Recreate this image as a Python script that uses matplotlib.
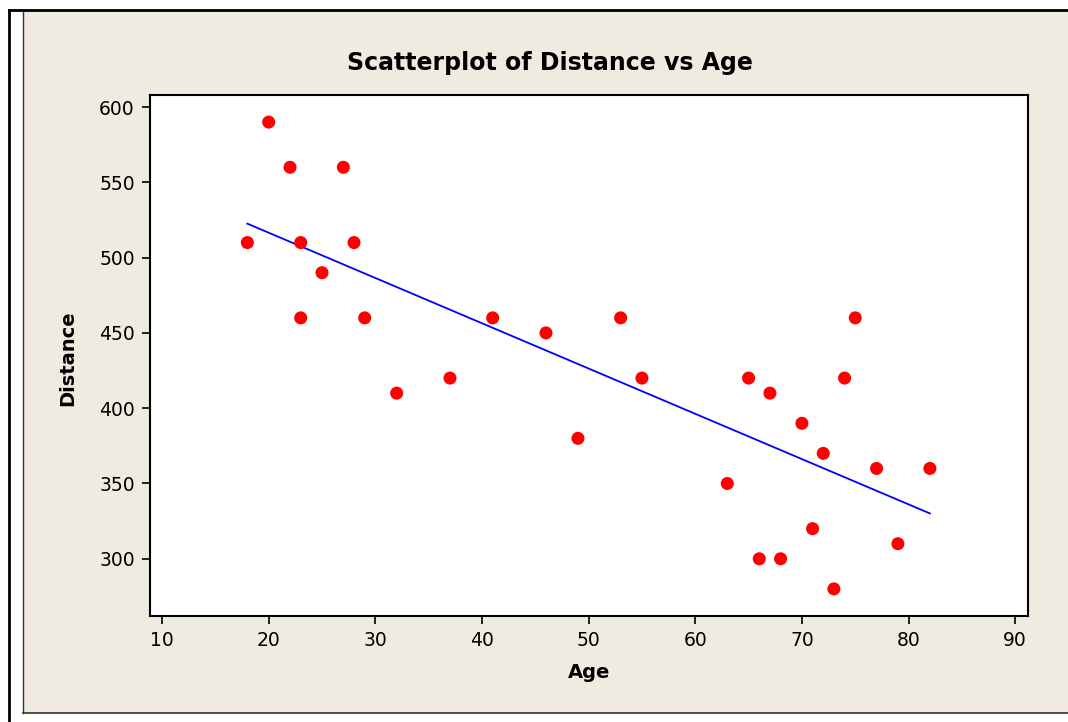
import numpy as np
import matplotlib
matplotlib.use("Agg")
import matplotlib.pyplot as plt
from matplotlib.patches import Rectangle
from matplotlib.lines import Line2D

# Age vs Distance data
age = [18, 20, 22, 23, 23, 25, 27, 28, 29, 32, 37, 41, 46, 49, 53,
       55, 63, 65, 66, 67, 68, 70, 71, 72, 73, 74, 75, 77, 79, 82]
distance = [510, 590, 560, 510, 460, 490, 560, 510, 460, 410, 420, 460, 450, 380, 460,
            420, 350, 420, 300, 410, 300, 390, 320, 370, 280, 420, 460, 360, 310, 360]
x_ticks = [10, 20, 30, 40, 50, 60, 70, 80, 90]
y_ticks = [300, 350, 400, 450, 500, 550, 600]

W, H = 1068, 722
panel_color = '#EFEBE1'

fig = plt.figure(figsize=(W / 100, H / 100), dpi=100)
fig.patch.set_facecolor('white')

def fx(px):
    return px / W

def fy(py):
    return 1 - py / H

# beige panel with thin grey border on left/bottom, black outer frame
fig.add_artist(Rectangle((fx(23), fy(713)), fx(W + 5) - fx(23), fy(10) - fy(713),
                         transform=fig.transFigure, facecolor=panel_color,
                         edgecolor='none', zorder=0))
fig.add_artist(Line2D([fx(23), fx(23)], [fy(713), fy(10)], transform=fig.transFigure,
                      color='#333333', lw=1.0))
fig.add_artist(Line2D([fx(23), fx(W)], [fy(713), fy(713)], transform=fig.transFigure,
                      color='#333333', lw=1.2))
fig.add_artist(Line2D([fx(9), fx(W)], [fy(10), fy(10)], transform=fig.transFigure,
                      color='black', lw=2.0))
fig.add_artist(Line2D([fx(9), fx(9)], [fy(10), fy(H)], transform=fig.transFigure,
                      color='black', lw=2.0))

ax = fig.add_axes([fx(150), fy(616), fx(1028) - fx(150), fy(95) - fy(616)])
ax.set_facecolor('white')

ax.scatter(age, distance, s=88, color='#FF0000', edgecolors='none', zorder=3)

# fitted regression line
slope, intercept = np.polyfit(age, distance, 1)
xs = np.array([min(age), max(age)])
ax.plot(xs, intercept + slope * xs, color='#0000FF', lw=1.3, zorder=2)

ax.set_xlim(8.87, 91.2)
ax.set_ylim(262, 608)
ax.set_xticks(x_ticks)
ax.set_yticks(y_ticks)
for sp in ax.spines.values():
    sp.set_linewidth(1.5)
    sp.set_color('black')
ax.tick_params(direction='out', length=6, width=1.2, labelsize=13.5, pad=5)

fig.text(fx(550), fy(70), 'Scatterplot of Distance vs Age', ha='center', va='baseline',
         fontsize=17, fontweight='bold')
fig.text(fx(589), fy(672), 'Age', ha='center', va='center', fontsize=14, fontweight='bold')
fig.text(fx(68), fy(358), 'Distance', ha='center', va='center', rotation=90,
         fontsize=14, fontweight='bold')

fig.savefig('out.png', dpi=100, facecolor=fig.get_facecolor())
